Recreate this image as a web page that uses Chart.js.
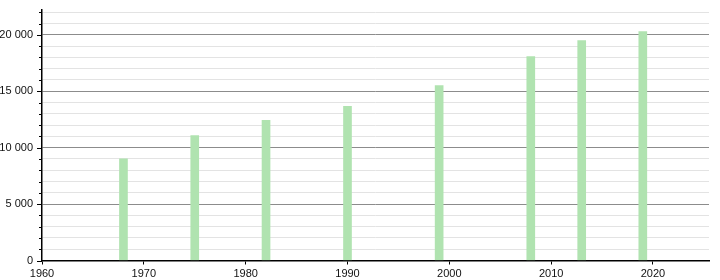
<!DOCTYPE html>
<html>
<head>
<meta charset="utf-8">
<script src="https://cdn.jsdelivr.net/npm/chart.js@4"></script>
<style>
    html, body { margin: 0; padding: 0; background: #fff; }
    #wrap { width: 720px; height: 280px; }
</style>
</head>
<body>
<div id="wrap"><canvas id="popChart" width="720" height="280"></canvas></div>
<script>
// Data
const years = [1968, 1975, 1982, 1990, 1999, 2008, 2013, 2019];
const population = [9010, 11060, 12420, 13660, 15500, 18070, 19490, 20290];

// Axis ticks
const xTicks = [1960, 1970, 1980, 1990, 2000, 2010, 2020];
const yLabels = [0, 5000, 10000, 15000, 20000];
const yMinor = [];
for (let v = 0; v <= 22000; v += 1000) yMinor.push(v);

// Formatting helper: 20000 -> "20 000"
function fmt(v) {
    return String(v).replace(/\B(?=(\d{3})+(?!\d))/g, ' ');
}

// Small tick marks on the y axis (long at labels, short in between)
const yTickMarks = {
    id: 'yTickMarks',
    afterDraw(chart) {
        const y = chart.scales.y;
        const c = chart.ctx;
        c.save();
        c.strokeStyle = '#000';
        c.lineWidth = 1;
        y.ticks.forEach(t => {
            const py = Math.round(y.getPixelForValue(t.value)) + 0.5;
            const len = yLabels.includes(t.value) ? 5 : 3;
            c.beginPath();
            c.moveTo(y.right - len, py);
            c.lineTo(y.right, py);
            c.stroke();
        });
        c.restore();
    }
};

const ctx = document.getElementById('popChart').getContext('2d');
const popChart = new Chart(ctx, {
    type: 'bar',
    data: {
        datasets: [{
            data: years.map((yr, i) => ({ x: yr, y: population[i] })),
            backgroundColor: '#b0e3b0',
            borderWidth: 0,
            barThickness: 8
        }]
    },
    options: {
        responsive: false,
        animation: false,
        events: [],
        layout: { padding: { top: 10, right: 11, left: 0, bottom: 0 } },
        plugins: { legend: { display: false }, tooltip: { enabled: false } },
        scales: {
            x: {
                type: 'linear',
                offset: false,
                min: 1960,
                max: 2025.5,
                afterBuildTicks: (s) => { s.ticks = xTicks.map(v => ({ value: v })); },
                afterFit: (s) => { s.height = 19.5; s.paddingLeft = 0; s.paddingRight = 0; },
                border: { color: '#000', width: 1.5 },
                grid: {
                    offset: false,
                    drawOnChartArea: false,
                    drawTicks: true,
                    tickLength: 4,
                    tickColor: '#000'
                },
                ticks: {
                    padding: 3,
                    maxRotation: 0,
                    autoSkip: false,
                    color: '#111',
                    font: { family: 'Liberation Sans', size: 11 },
                    callback: (v) => String(v)
                }
            },
            y: {
                min: 0,
                max: 22200,
                afterBuildTicks: (s) => { s.ticks = yMinor.map(v => ({ value: v })); },
                afterFit: (s) => { s.width = 42; s.paddingTop = 0; s.paddingBottom = 0; },
                border: { color: '#000', width: 1.5 },
                grid: {
                    drawTicks: false,
                    color: (c) => c.tick && yLabels.includes(c.tick.value) ? '#8c8c8c' : '#e3e3e3',
                    lineWidth: 1
                },
                ticks: {
                    padding: 9,
                    autoSkip: false,
                    color: '#111',
                    font: { family: 'Liberation Sans', size: 11 },
                    callback: (v) => yLabels.includes(v) ? fmt(v) : ''
                }
            }
        }
    },
    plugins: [yTickMarks]
});
</script>
</body>
</html>
